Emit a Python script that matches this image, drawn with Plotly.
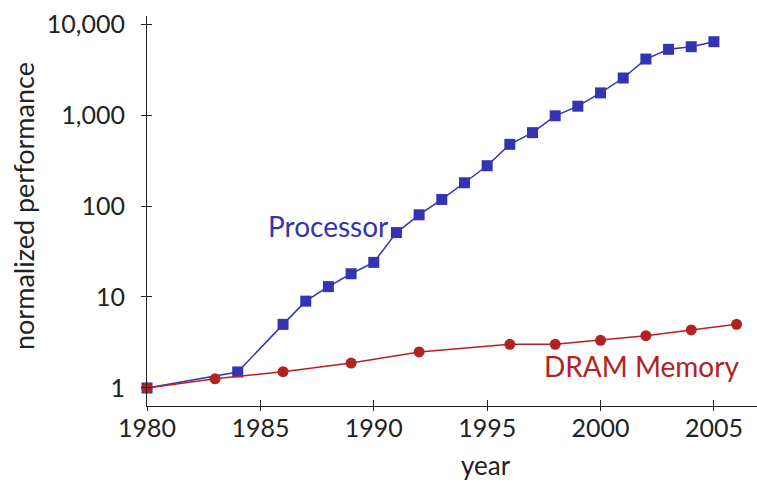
import plotly.graph_objects as go

proc_years = [1980, 1984, 1986, 1987, 1988, 1989, 1990, 1991, 1992, 1993, 1994,
              1995, 1996, 1997, 1998, 1999, 2000, 2001, 2002, 2003, 2004, 2005]
proc_perf = [1, 1.5, 5, 9, 13, 18, 24, 51, 80, 118, 180,
             277, 476, 640, 980, 1250, 1750, 2550, 4120, 5270, 5630, 6390]

dram_years = [1980, 1983, 1986, 1989, 1992, 1996, 1998, 2000, 2002, 2004, 2006]
dram_perf = [1, 1.26, 1.51, 1.88, 2.49, 3.02, 3.02, 3.34, 3.76, 4.34, 5.01]

y_tickvals = [1, 10, 100, 1000, 10000]
y_ticktext = ["1", "10", "100", "1,000", "10,000"]
x_tickvals = [1980, 1985, 1990, 1995, 2000, 2005]

BLUE = "#3333B3"
RED = "#B22222"
FONT = "Lato"
AX = "#222222"

xr = [1980, 2006.9]
yr = [-0.198, 4.088]

fig = go.Figure()
fig.add_trace(go.Scatter(x=proc_years, y=proc_perf, mode="lines+markers",
                         line=dict(color=BLUE, width=1.5),
                         marker=dict(symbol="square", size=11, color=BLUE),
                         showlegend=False, cliponaxis=False))
fig.add_trace(go.Scatter(x=dram_years, y=dram_perf, mode="lines+markers",
                         line=dict(color=RED, width=1.5),
                         marker=dict(symbol="circle", size=11, color=RED),
                         showlegend=False, cliponaxis=False))
# empty trace for overlay axes (inside ticks)
fig.add_trace(go.Scatter(x=[], y=[], xaxis="x2", yaxis="y2", showlegend=False))

fig.update_layout(
    width=757, height=482,
    margin=dict(l=147, r=0, t=16, b=76),
    plot_bgcolor="white", paper_bgcolor="white",
    font=dict(family=FONT, size=25, color=AX),
    xaxis=dict(range=xr, tickmode="array", tickvals=x_tickvals,
               showgrid=False, zeroline=False, showline=True, linecolor=AX, linewidth=1.2,
               ticks="outside", ticklen=4, tickcolor=AX, tickwidth=1.2,
               tickfont=dict(size=25), ticklabelstandoff=-4),
    yaxis=dict(type="log", range=yr, tickmode="array", tickvals=y_tickvals, ticktext=y_ticktext,
               showgrid=False, zeroline=False, showline=True, linecolor=AX, linewidth=1.2,
               ticks="outside", ticklen=5, tickcolor=AX, tickwidth=1.2,
               tickfont=dict(size=25), ticklabelstandoff=11),
    xaxis2=dict(overlaying="x", anchor="y2", range=xr, tickmode="array", tickvals=x_tickvals,
                showgrid=False, zeroline=False, showline=False, showticklabels=False,
                ticks="inside", ticklen=6, tickcolor=AX, tickwidth=1.2, side="bottom"),
    yaxis2=dict(overlaying="y", anchor="x2", type="log", range=yr, tickmode="array", tickvals=y_tickvals,
                showgrid=False, zeroline=False, showline=False, showticklabels=False,
                ticks="inside", ticklen=5, tickcolor=AX, tickwidth=1.2, side="left"),
    annotations=[
        dict(text="Processor", x=1988, y=1.78, xref="x", yref="y", showarrow=False,
             font=dict(color=BLUE, size=28, family=FONT), xanchor="center", yanchor="middle"),
        dict(text="DRAM Memory", x=2001.8, y=0.242, xref="x", yref="y", showarrow=False,
             font=dict(color=RED, size=28, family=FONT), xanchor="center", yanchor="middle"),
        dict(text="year", x=(486 - 147) / 610, y=-(465 - 406) / 390, xref="paper", yref="paper",
             showarrow=False, font=dict(size=26, family=FONT, color=AX),
             xanchor="center", yanchor="middle"),
        dict(text="normalized performance", x=(23 - 147) / 610, y=(406 - 206) / 390,
             xref="paper", yref="paper", textangle=-90, showarrow=False,
             font=dict(size=27, family=FONT, color=AX), xanchor="center", yanchor="middle"),
    ],
)

fig.write_html("out.html")
